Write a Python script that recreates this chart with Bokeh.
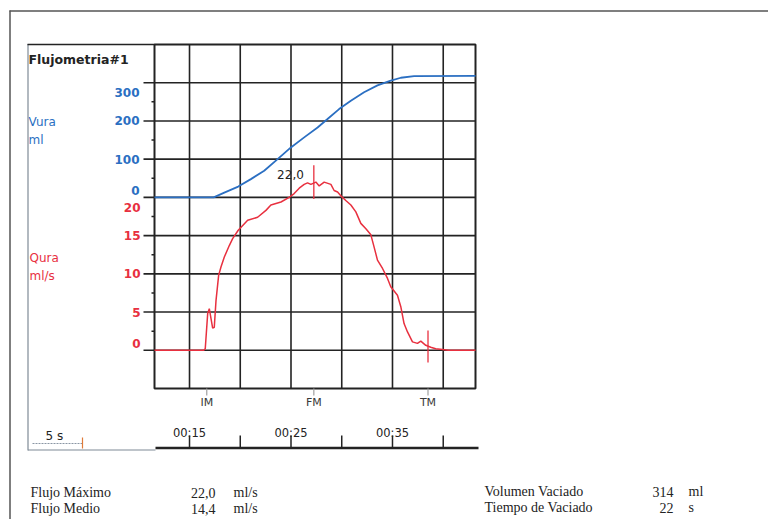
from bokeh.plotting import figure
from bokeh.models import Range1d
from bokeh.core.properties import value
from bokeh.embed import file_html
from bokeh.resources import INLINE

# ---------------- data ----------------
flow_t = [11.55, 16.40, 16.55, 16.79, 16.95, 17.28, 17.44, 17.61, 17.87, 18.10, 18.43,
          18.92, 19.25, 19.80, 20.73, 21.71, 22.53, 23.02, 24.01, 24.82, 25.31, 25.81,
          26.30, 26.63, 26.96, 27.45, 27.78, 28.27, 28.93, 29.25, 29.59, 29.91, 30.40,
          30.90, 31.39, 31.88, 32.38, 32.87, 33.19, 33.52, 34.02, 34.51, 34.83, 35.49,
          35.82, 36.14, 36.48, 36.97, 37.46, 37.79, 38.28, 38.77, 39.26, 39.92, 40.50, 43.18]
flow_q = [0, 0, 0.2, 4.8, 5.45, 2.9, 3.0, 6.5, 9.8, 10.9, 12.2,
          13.7, 14.6, 15.7, 17.0, 17.4, 18.3, 19.0, 19.4, 20.0, 20.5, 21.2,
          21.7, 21.9, 21.7, 22.0, 21.5, 22.0, 21.7, 20.9, 20.7, 20.2, 19.6,
          19.0, 18.1, 16.6, 15.9, 15.1, 13.5, 11.8, 10.7, 9.4, 8.3, 7.2,
          5.7, 3.5, 2.4, 1.1, 0.9, 1.2, 0.65, 0.4, 0.2, 0.1, 0, 0]
vol_t = [11.55, 17.38, 18.43, 19.80, 21.05, 22.36, 23.68, 24.99, 26.30, 27.62,
         28.60, 29.74, 30.90, 32.20, 33.52, 34.76, 35.82, 37.13, 43.18]
vol_v = [0, 0, 12.6, 28.3, 47.8, 69.6, 100, 130.7, 157, 183,
         205, 231, 253, 275, 293, 305, 313, 317, 318]

grid_t = [15, 20, 25, 30, 35, 40]
flow_ticks = [0, 5, 10, 15, 20]
vol_ticks = [0, 100, 200, 300]
time_ticks = [15, 20, 25, 30, 35, 40]
time_labels = ["00:15", "", "00:25", "", "00:35", ""]
event_t = [16.7, 27.25, 38.5]
event_names = ["IM", "FM", "TM"]
q_max = 22.0
q_mean = 14.4
v_void = 314
t_void = 22
t_peak = 27.25
flow_tm = 0.5

# ---------------- styling / layout ----------------
RED = "#e8303f"
BLUE = "#2b6fc2"
INK = "#232323"
SANS = "DejaVu Sans"
SERIF = "Liberation Serif"

W, H = 768, 519
FL, FR, FT, FB = 154, 475, 44, 388          # chart frame edges (page pixels)
X0, X1 = 11.55, 43.18                      # seconds shown in the chart
Y0, Y1 = -5.0, 40.0                        # flow units shown in the chart
kx = (FR - FL) / (X1 - X0)
ky = (FB - FT) / (Y1 - Y0)
XS, XE = X0 - FL / kx, X1 + (W - FR) / kx
YS, YE = Y0 - (H - FB) / ky, Y1 + FT / ky

p = figure(width=W, height=H, x_range=Range1d(XS, XE), y_range=Range1d(YS, YE),
           x_axis_type=None, y_axis_type=None, min_border=0,
           output_backend="svg", toolbar_location=None, outline_line_color=None)
p.background_fill_color = "white"
p.border_fill_color = "white"
p.extra_x_ranges = {"px": Range1d(0, W)}
p.extra_y_ranges = {"px": Range1d(H, 0), "vol": Range1d((YS - 20) * 20, (YE - 20) * 20)}

PX = dict(x_range_name="px", y_range_name="px")

# ---- grid and frame of the chart
grid_y = flow_ticks + [20 + v / 20 for v in vol_ticks[1:]]
minor_y = [y + 2.5 for y in grid_y[:-1]]
p.segment(x0=grid_t, y0=[Y0] * len(grid_t), x1=grid_t, y1=[Y1] * len(grid_t),
          line_color=INK, line_width=1.6)
p.segment(x0=[X0] * len(grid_y), y0=grid_y, x1=[X1] * len(grid_y), y1=grid_y,
          line_color=INK, line_width=1.6)
p.segment(x0=[FL - 11] * len(grid_y), y0=grid_y, x1=[FL] * len(grid_y), y1=grid_y,
          line_color=INK, line_width=1.6, x_range_name="px")
p.segment(x0=[FL - 3] * len(minor_y), y0=minor_y, x1=[FL] * len(minor_y), y1=minor_y,
          line_color=INK, line_width=1.5, x_range_name="px")
p.quad(left=[X0], right=[X1], bottom=[Y0], top=[Y1], fill_color=None,
       line_color=INK, line_width=2)

# ---- curves
p.line(flow_t, flow_q, line_color=RED, line_width=1.5)
p.line(vol_t, vol_v, line_color=BLUE, line_width=1.8, y_range_name="vol")

# ---- markers
p.segment(x0=[t_peak], y0=[q_max - 2.2], x1=[t_peak], y1=[q_max + 2.2], line_color=RED, line_width=1.3)
p.segment(x0=[event_t[2]], y0=[flow_tm - 2.1], x1=[event_t[2]], y1=[flow_tm + 2.1],
          line_color=RED, line_width=1.3)
p.text(x=[t_peak], y=[q_max], text=[f"{q_max:.1f}".replace(".", ",")], x_offset=-10, y_offset=-8,
       text_align="right", text_baseline="middle", text_font=value(SANS),
       text_font_size="12px", text_color=INK)

# ---- left tick labels
vol_off = [-7 if i == 0 else (10 if i == len(vol_ticks) - 1 else 0) for i in range(len(vol_ticks))]
p.text(x=[139] * len(vol_ticks), y=vol_ticks, text=[str(v) for v in vol_ticks], y_offset=vol_off,
       x_range_name="px", y_range_name="vol", text_align="right", text_baseline="middle",
       text_color=BLUE, text_font=value(SANS), text_font_size="12px", text_font_style="bold")
flow_off = [-7 if i == 0 else (10 if i == len(flow_ticks) - 1 else 0) for i in range(len(flow_ticks))]
p.text(x=[140] * len(flow_ticks), y=flow_ticks, text=[str(q) for q in flow_ticks], y_offset=flow_off,
       x_range_name="px", text_align="right", text_baseline="middle",
       text_color=RED, text_font=value(SANS), text_font_size="12px", text_font_style="bold")


def label(px, py, text, color=INK, size="12px", style="normal", align="left", font=SANS):
    p.text(x=[px], y=[py], text=[text], text_color=color, text_font_size=size,
           text_font_style=style, text_align=align, text_baseline="middle",
           text_font=value(font), **PX)


def seg(x0, y0, x1, y1, color=INK, width=1.5, dash="solid"):
    p.segment(x0=[x0], y0=[y0], x1=[x1], y1=[y1], line_color=color, line_width=width,
              line_dash=dash, **PX)


label(28, 59, "Flujometria#1", size="12.5px", style="bold")
label(28, 121, "Vura", color=BLUE, size="12px")
label(28, 139, "ml", color=BLUE, size="12px")
label(29, 257, "Qura", color=RED, size="12px")
label(29, 275, "ml/s", color=RED, size="12px")

# ---- page frames
seg(9, 10.5, 768, 10.5, color="#555555", width=1.5)
seg(9.5, 10, 9.5, 519, color="#555555", width=1.5)
seg(27.5, 43.5, 27.5, 450, color="#7f8a96", width=1.2)
seg(27, 44, FL, 44, color=INK, width=1.6)
seg(27.5, 449.5, 155, 449.5, color="#7f8a96", width=1.2)
seg(155, 447.5, 478, 447.5, color=INK, width=2.6)

# ---- event axis IM / FM / TM
p.segment(x0=event_t, y0=[FB] * 3, x1=event_t, y1=[FB + 7] * 3, line_color="#a0a0a0",
          line_width=1.2, y_range_name="px")
p.text(x=event_t, y=[402] * 3, text=event_names, y_range_name="px", text_align="center",
       text_baseline="middle", text_color="#3a3a3a", text_font=value(SANS), text_font_size="11px")

# ---- 5 s scale
label(45, 435, "5 s", size="12px")
seg(32, 443, 82, 443, color="#8a96a4", width=1, dash="2 1")
seg(82, 437, 82, 448, color="#e07b39", width=1.2)

# ---- time bar
p.segment(x0=time_ticks, y0=[435] * len(time_ticks), x1=time_ticks, y1=[447] * len(time_ticks),
          line_color=INK, line_width=1.5, y_range_name="px")
p.text(x=[t for t, s in zip(time_ticks, time_labels) if s], y=[432] * 3,
       text=[s for s in time_labels if s], y_range_name="px", text_align="center",
       text_baseline="middle", text_color=INK, text_font=value(SANS), text_font_size="11.5px")

# ---- summary table
fmt = lambda v: f"{v:.1f}".replace(".", ",")
TS = "14px"
label(30, 492, "Flujo Máximo", size=TS, font=SERIF)
label(30, 508, "Flujo Medio", size=TS, font=SERIF)
label(215, 492, fmt(q_max), size=TS, font=SERIF, align="right")
label(215, 508, fmt(q_mean), size=TS, font=SERIF, align="right")
label(233, 492, "ml/s", size=TS, font=SERIF)
label(233, 508, "ml/s", size=TS, font=SERIF)
label(484, 491, "Volumen Vaciado", size=TS, font=SERIF)
label(484, 507, "Tiempo de Vaciado", size=TS, font=SERIF)
label(673, 491, str(v_void), size=TS, font=SERIF, align="right")
label(673, 507, str(t_void), size=TS, font=SERIF, align="right")
label(688, 491, "ml", size=TS, font=SERIF)
label(688, 507, "s", size=TS, font=SERIF)

open("out.html", "w").write(file_html(p, INLINE))
